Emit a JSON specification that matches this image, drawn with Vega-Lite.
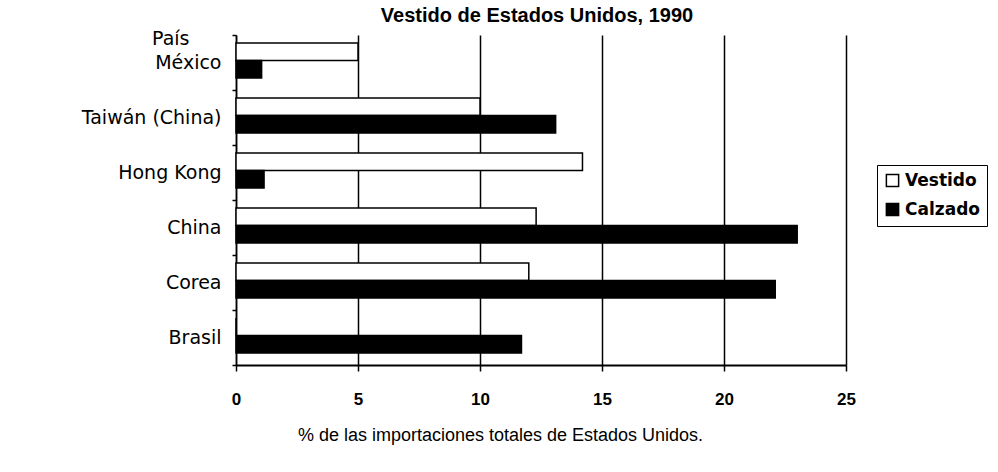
{
  "$schema": "https://vega.github.io/schema/vega-lite/v6.json",
  "width": 610,
  "height": 330,
  "autosize": {"type": "none"},
  "padding": {"left": 236, "top": 35, "right": 152, "bottom": 107},
  "background": "white",
  "title": {"text": "Vestido de Estados Unidos, 1990", "fontSize": 20, "font": "Liberation Sans", "fontWeight": "bold", "color": "black", "anchor": "middle", "offset": 12, "dx": -4, "dy": 12},
  "data": {
    "values": [
      {"pais": "México", "tipo": "Vestido", "valor": 5.0},
      {"pais": "México", "tipo": "Calzado", "valor": 1.05},
      {"pais": "Taiwán (China)", "tipo": "Vestido", "valor": 10.0},
      {"pais": "Taiwán (China)", "tipo": "Calzado", "valor": 13.1},
      {"pais": "Hong Kong", "tipo": "Vestido", "valor": 14.2},
      {"pais": "Hong Kong", "tipo": "Calzado", "valor": 1.15},
      {"pais": "China", "tipo": "Vestido", "valor": 12.3},
      {"pais": "China", "tipo": "Calzado", "valor": 23.0},
      {"pais": "Corea", "tipo": "Vestido", "valor": 12.0},
      {"pais": "Corea", "tipo": "Calzado", "valor": 22.1},
      {"pais": "Brasil", "tipo": "Vestido", "valor": 0},
      {"pais": "Brasil", "tipo": "Calzado", "valor": 11.7}
    ]
  },
  "mark": {"type": "bar", "stroke": "black", "strokeWidth": 1.5},
  "encoding": {
    "y": {
      "field": "pais", "type": "nominal",
      "sort": ["México", "Taiwán (China)", "Hong Kong", "China", "Corea", "Brasil"],
      "scale": {"paddingInner": 0, "paddingOuter": 0},
      "axis": {
        "title": "País", "titleAngle": 0, "titleAlign": "right", "titleBaseline": "middle",
        "titleX": -47, "titleY": 3, "titleFont": "DejaVu Sans", "titleFontSize": 19, "titleFontWeight": "normal", "titleColor": "black",
        "labelFont": "DejaVu Sans", "labelFontSize": 19, "labelColor": "black", "labelPadding": 11,
        "tickSize": 4, "tickColor": "black", "tickWidth": 1.5, "tickBand": "extent",
        "domainColor": "black", "domainWidth": 1.5, "grid": false
      }
    },
    "yOffset": {
      "field": "tipo", "type": "nominal", "sort": ["Vestido", "Calzado"],
      "scale": {"paddingInner": 0, "paddingOuter": 0.57, "align": 0.4}
    },
    "x": {
      "field": "valor", "type": "quantitative",
      "scale": {"domain": [0, 25], "nice": false},
      "axis": {
        "values": [0, 5, 10, 15, 20, 25],
        "title": "% de las importaciones totales de Estados Unidos.",
        "titleFont": "Liberation Sans", "titleFontSize": 18, "titleFontWeight": "normal", "titleColor": "black",
        "titleX": 264, "titleY": 70, "titleAlign": "center", "titleBaseline": "middle",
        "labelFont": "Liberation Sans", "labelFontSize": 17, "labelFontWeight": "bold", "labelColor": "black", "labelPadding": 20, "labelFlush": false,
        "tickSize": 6, "tickColor": "black", "tickWidth": 1.5,
        "domainColor": "black", "domainWidth": 2,
        "grid": true, "gridColor": "black", "gridWidth": 1.5, "gridOpacity": 1
      }
    },
    "fill": {
      "field": "tipo", "type": "nominal",
      "scale": {"domain": ["Vestido", "Calzado"], "range": ["white", "black"]},
      "legend": {
        "title": null, "orient": "none", "legendX": 641, "legendY": 130,
        "strokeColor": "black", "padding": 7, "fillColor": "white",
        "symbolType": "square", "symbolSize": 150, "symbolStrokeColor": "black", "symbolStrokeWidth": 1.5,
        "labelFont": "DejaVu Sans", "labelFontSize": 17, "labelFontWeight": "bold", "labelColor": "black",
        "labelOffset": 4, "rowPadding": 10
      }
    }
  },
  "config": {"view": {"stroke": null}}
}
